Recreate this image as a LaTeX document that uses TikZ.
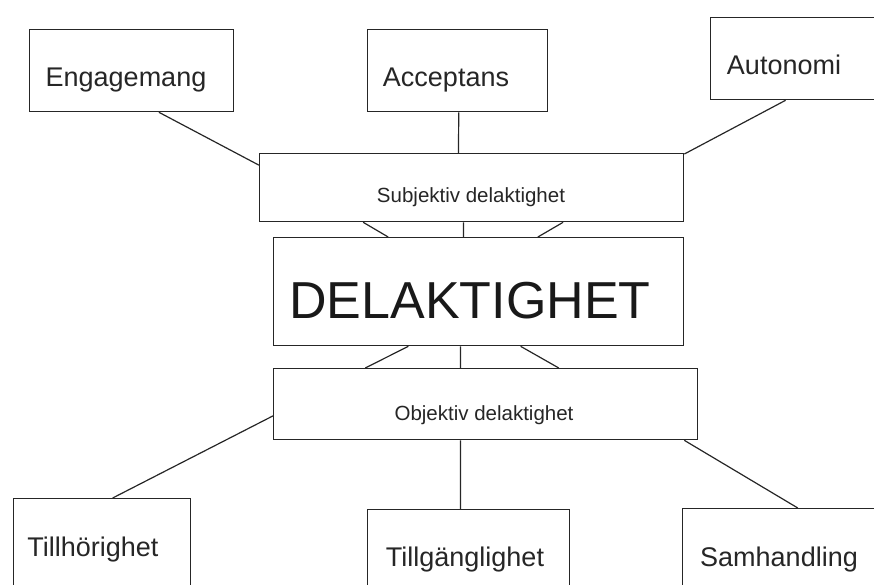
\documentclass[tikz,border=0pt]{standalone}
\usepackage{fontspec}
\setmainfont{Liberation Sans}
\usetikzlibrary{calc}
\tikzset{
  box/.style={draw=black!85, line width=1.3pt, inner sep=0pt, anchor=north west, fill=white},
  conn/.style={draw=black!85, line width=1.2pt},
  big/.style={font=\fontsize{27}{32}\selectfont, anchor=base, inner sep=0pt, text=black!85},
  mid/.style={font=\fontsize{20.5}{24}\selectfont, anchor=base, inner sep=0pt, text=black!85},
  huge/.style={font=\fontsize{52}{60}\selectfont, anchor=base, inner sep=0pt, text=black!90}
}
\begin{document}
\begin{tikzpicture}[x=1pt,y=-1pt]
\useasboundingbox (0,0) rectangle (874,584);
\clip (0,0) rectangle (874,584);
% boxes
\node[box, minimum width=204pt, minimum height=82pt] (eng) at (29,29) {};
\node[box, minimum width=180pt, minimum height=82pt] (acc) at (367,29) {};
\node[box, minimum width=190pt, minimum height=82pt] (aut) at (710,17) {};
\node[box, minimum width=424pt, minimum height=68pt] (subj) at (259,153) {};
\node[box, minimum width=410pt, minimum height=108pt] (del) at (273,237) {};
\node[box, minimum width=424pt, minimum height=71pt] (obj) at (273,368) {};
\node[box, minimum width=177pt, minimum height=110pt] (till) at (13,498) {};
\node[box, minimum width=202pt, minimum height=100pt] (tillg) at (367,509) {};
\node[box, minimum width=218pt, minimum height=100pt] (sam) at (682,508) {};
% texts
\node[big] (teng) at (126,86) {Engagemang};
\node[big] (tacc) at (446,86) {Acceptans};
\node[big] (taut) at (784,74) {Autonomi};
\node[mid] (tsubj) at (471,202) {Subjektiv delaktighet};
\node[huge] (tdel) at (470,318) {DELAKTIGHET};
\node[mid] (tobj) at (484,420) {Objektiv delaktighet};
\node[big] (ttill) at (93,556) {Tillhörighet};
\node[big] (ttillg) at (465,566) {Tillgänglighet};
\node[big] (tsam) at (779,566) {Samhandling};
% connectors
\draw[conn] ($(eng.south west)!0.633!(eng.south east)$) -- ($(subj.north west)!0.176!(subj.south west)$);
\draw[conn] ($(acc.south west)!0.506!(acc.south east)$) -- ($(subj.north west)!0.469!(subj.north east)$);
\draw[conn] ($(aut.south west)!0.395!(aut.south east)$) -- ($(subj.north east)!0.015!(subj.south east)$);
\draw[conn] ($(subj.south west)!0.245!(subj.south east)$) -- ($(del.north west)!0.280!(del.north east)$);
\draw[conn] ($(subj.south west)!0.481!(subj.south east)$) -- ($(del.north west)!0.463!(del.north east)$);
\draw[conn] ($(subj.south west)!0.715!(subj.south east)$) -- ($(del.north west)!0.644!(del.north east)$);
\draw[conn] ($(del.south west)!0.329!(del.south east)$) -- ($(obj.north west)!0.217!(obj.north east)$);
\draw[conn] ($(del.south west)!0.456!(del.south east)$) -- ($(obj.north west)!0.441!(obj.north east)$);
\draw[conn] ($(del.south west)!0.602!(del.south east)$) -- ($(obj.north west)!0.672!(obj.north east)$);
\draw[conn] ($(obj.north west)!0.662!(obj.south west)$) -- ($(till.north west)!0.559!(till.north east)$);
\draw[conn] ($(obj.south west)!0.441!(obj.south east)$) -- ($(tillg.north west)!0.460!(tillg.north east)$);
\draw[conn] ($(obj.south west)!0.967!(obj.south east)$) -- ($(sam.north west)!0.528!(sam.north east)$);
\end{tikzpicture}
\end{document}
